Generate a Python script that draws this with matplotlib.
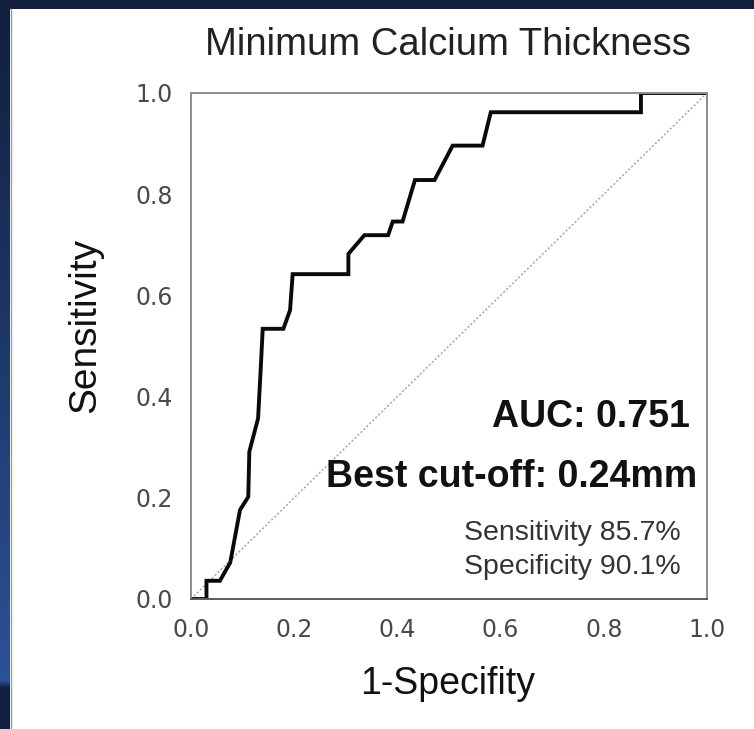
import numpy as np
import matplotlib
matplotlib.use("Agg")
import matplotlib.pyplot as plt

plt.rcParams["font.family"] = ["Liberation Sans", "DejaVu Sans"]

# ROC curve
fpr = [0.0, 0.03, 0.03, 0.056, 0.076, 0.095, 0.111, 0.113, 0.130, 0.135, 0.139,
       0.179, 0.192, 0.197, 0.305, 0.305, 0.336, 0.382, 0.391, 0.41, 0.434,
       0.472, 0.507, 0.565, 0.581, 0.872, 0.872, 1.0]
tpr = [0.0, 0.0, 0.036, 0.036, 0.072, 0.176, 0.202, 0.291, 0.357, 0.453, 0.534,
       0.534, 0.571, 0.642, 0.642, 0.682, 0.719, 0.719, 0.746, 0.746, 0.828,
       0.828, 0.896, 0.896, 0.962, 0.962, 1.0, 1.0]
ticks = [0.0, 0.2, 0.4, 0.6, 0.8, 1.0]
tick_labels = ["0.0", "0.2", "0.4", "0.6", "0.8", "1.0"]

auc_text = "AUC: 0.751"
cutoff_text = "Best cut-off: 0.24mm"
sens_text = "Sensitivity 85.7%"
spec_text = "Specificity 90.1%"

W, H = 754, 729
fig = plt.figure(figsize=(W / 100, H / 100), dpi=100)
fig.patch.set_facecolor("white")

# dark slide frame: top strip and left gradient strip
top = fig.add_axes([0, 1 - 9 / H, 1, 9 / H])
top.set_facecolor("#121f3e")
top.set_xticks([]); top.set_yticks([])
for s in top.spines.values():
    s.set_visible(False)

left = fig.add_axes([0, 0, 10 / W, 1 - 9 / H])
grad = np.concatenate([np.linspace(0, 1, 90), np.zeros(6)]).reshape(-1, 1)
left.imshow(grad, aspect="auto", cmap=matplotlib.colors.LinearSegmentedColormap.from_list(
    "frame", ["#121f3e", "#2b5196"]), interpolation="bilinear", extent=[0, 1, 0, 1])
left.set_xticks([]); left.set_yticks([])
for s in left.spines.values():
    s.set_visible(False)
fig.add_artist(plt.Line2D([10.5 / W, 10.5 / W], [0, 1 - 9 / H], color="#9a9a9a", lw=1))

ax = fig.add_axes([191 / W, 1 - 599 / H, 516 / W, 506 / H])
ax.plot([0, 1], [0, 1], color="#a0a0a0", lw=1, ls=(0, (1.5, 1.5)))
ax.plot(fpr, tpr, color="#0a0a0a", lw=2.8, solid_joinstyle="miter")

ax.set_xlim(0, 1)
ax.set_ylim(0, 1)
ax.set_xticks(ticks)
ax.set_xticklabels(tick_labels, family="DejaVu Sans")
ax.set_yticks(ticks)
ax.set_yticklabels(tick_labels, family="DejaVu Sans")
ax.tick_params(length=0, labelsize=17, labelcolor="#4a4a4a")
ax.tick_params(axis="x", pad=14)
ax.tick_params(axis="y", pad=13)
for name, s in ax.spines.items():
    s.set_color("#8c8c8c")
    s.set_linewidth(1.4)
ax.spines["bottom"].set_color("#5a5a5a")

ax.text(0.967, 0.360, auc_text, transform=ax.transAxes, ha="right", va="center",
        fontsize=27, fontweight="bold", color="#111111")
ax.text(0.981, 0.242, cutoff_text, transform=ax.transAxes, ha="right", va="center",
        fontsize=27, fontweight="bold", color="#111111")
ax.text(0.948, 0.130, sens_text, transform=ax.transAxes, ha="right", va="center",
        fontsize=20.5, color="#333333")
ax.text(0.948, 0.063, spec_text, transform=ax.transAxes, ha="right", va="center",
        fontsize=20.5, color="#333333")

fig.text(448 / W, 1 - 45 / H, "Minimum Calcium Thickness", ha="center", va="center",
         fontsize=27.5, color="#222222")
fig.text(85 / W, 1 - 325 / H, "Sensitivity", ha="center", va="center", rotation=90,
         fontsize=28, color="#111111")
fig.text(448 / W, 1 - 684 / H, "1-Specifity", ha="center", va="center",
         fontsize=27, color="#111111")

fig.savefig("out.png", dpi=100)
